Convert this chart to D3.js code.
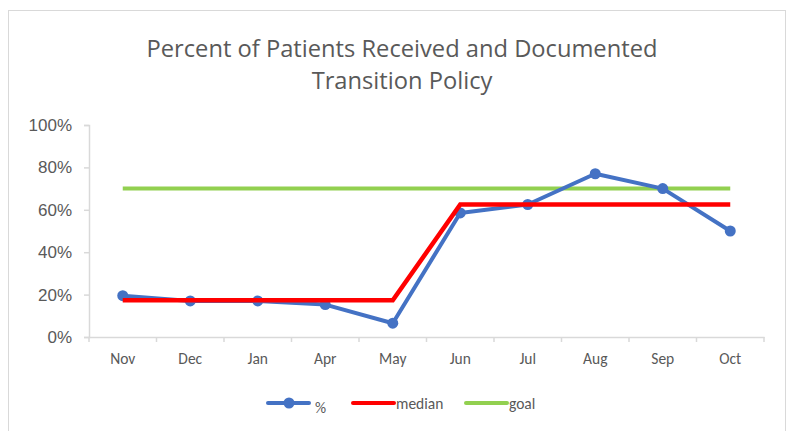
<!DOCTYPE html>
<html><head><meta charset="utf-8">
<script src="https://cdn.jsdelivr.net/npm/d3@7"></script>
<style>body{margin:0;background:#fff}svg{display:block}</style>
</head><body>
<svg id="c" width="791" height="431"></svg>
<script>
const categories = ["Nov","Dec","Jan","Apr","May","Jun","Jul","Aug","Sep","Oct"];
const pctValues = [19.5, 17, 17, 15.3, 6.5, 58.5, 62.5, 77, 70, 50];
const medianValues = [17.3, 17.3, 17.3, 17.3, 17.3, 62.5, 62.5, 62.5, 62.5, 62.5];
const goalValues = [70, 70, 70, 70, 70, 70, 70, 70, 70, 70];
const yTicks = [0, 20, 40, 60, 80, 100];
const titleLines = ["Percent of Patients Received and Documented", "Transition Policy"];

const svg = d3.select("#c");
const font = "Carlito, Lato, sans-serif";
const titleFont = "'Open Sans', sans-serif";
const numFont = "'Liberation Sans', Arial, sans-serif";
const txt = "#595959";

svg.append("rect").attr("x", 8.5).attr("y", 10.5).attr("width", 777).attr("height", 425)
  .attr("fill", "#fff").attr("stroke", "#d9d9d9").attr("stroke-width", 1);

const x = d3.scaleBand().domain(categories).range([89, 764]);
const y = d3.scaleLinear().domain([0, 100]).range([337, 125]);

svg.selectAll("text.title").data(titleLines).enter().append("text")
  .attr("x", 402).attr("y", (d, i) => 57 + i * 32)
  .attr("text-anchor", "middle").attr("font-family", titleFont).attr("font-size", 23.7)
  .attr("fill", txt).text(d => d);

const yAxis = svg.append("g").attr("transform", "translate(89,0)")
  .call(d3.axisLeft(y).tickValues(yTicks).tickFormat(d => d + "%").tickSize(5).tickPadding(12));
yAxis.select(".domain").attr("stroke", "#d9d9d9").attr("stroke-width", 1.5);
yAxis.selectAll(".tick line").attr("stroke", "#d9d9d9").attr("stroke-width", 1.5);
yAxis.selectAll("text").attr("font-family", numFont).attr("font-size", 17).attr("fill", txt);

const xAxis = svg.append("g").attr("transform", "translate(0,337)")
  .call(d3.axisBottom(x).tickSize(0).tickPadding(16));
xAxis.select(".domain").attr("stroke", "#d9d9d9").attr("stroke-width", 1.5);
xAxis.selectAll("text").attr("font-family", font).attr("font-size", 15.5).attr("fill", txt);
const bounds = categories.map(c => x(c)).concat([x.range()[1]]);
xAxis.selectAll("line.sep").data(bounds).enter().append("line").attr("class", "sep")
  .attr("x1", d => d).attr("x2", d => d).attr("y1", 0).attr("y2", 5)
  .attr("stroke", "#d9d9d9").attr("stroke-width", 1.5);

const cx = c => x(c) + x.bandwidth() / 2;
const line = d3.line().x((d, i) => cx(categories[i])).y(d => y(d));

svg.append("path").datum(goalValues).attr("d", line).attr("fill", "none")
  .attr("stroke", "#92D050").attr("stroke-width", 4);
svg.append("path").datum(pctValues).attr("d", line).attr("fill", "none")
  .attr("stroke", "#4472C4").attr("stroke-width", 4).attr("stroke-linejoin", "round");
svg.selectAll("circle.pt").data(pctValues).enter().append("circle").attr("class", "pt")
  .attr("cx", (d, i) => cx(categories[i])).attr("cy", d => y(d)).attr("r", 5.5)
  .attr("fill", "#4472C4");
svg.append("path").datum(medianValues).attr("d", line).attr("fill", "none")
  .attr("stroke", "#FF0000").attr("stroke-width", 4.5).attr("stroke-linejoin", "miter");

// legend
const legend = [
  {name: "%", color: "#4472C4", x: 268, marker: true},
  {name: "median", color: "#FF0000", x: 353, marker: false},
  {name: "goal", color: "#92D050", x: 466, marker: false}
];
const lg = svg.append("g");
legend.forEach(l => {
  lg.append("line").attr("x1", l.x).attr("x2", l.x + 41).attr("y1", 403).attr("y2", 403)
    .attr("stroke", l.color).attr("stroke-width", 4).attr("stroke-linecap", "round");
  if (l.marker) lg.append("circle").attr("cx", l.x + 21).attr("cy", 403).attr("r", 5.5).attr("fill", l.color);
  lg.append("text").attr("x", l.x + (l.marker ? 47 : 43)).attr("y", l.marker ? 413 : 409)
    .attr("font-family", font).attr("font-size", 15.5).attr("fill", txt).text(l.name);
});
</script>
</body></html>
